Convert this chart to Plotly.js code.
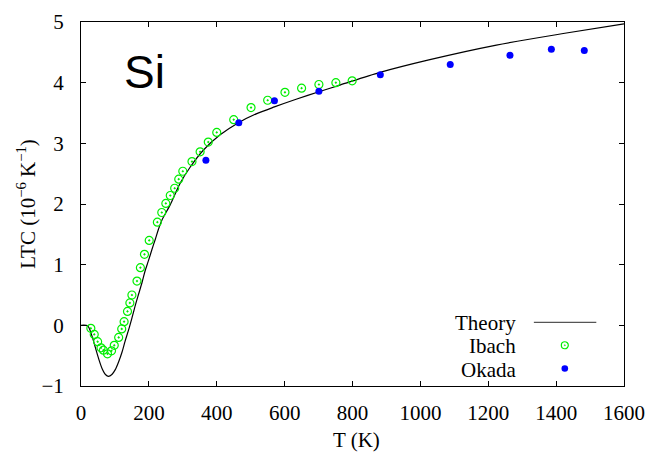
<!DOCTYPE html>
<html>
<head>
<meta charset="utf-8">
<script src="https://cdn.plot.ly/plotly-3.0.1.min.js"></script>
<style>
html,body{margin:0;padding:0;background:#fff;}
#chart{width:652px;height:454px;}
</style>
</head>
<body>
<div id="chart"></div>
<script>
// Theory curve (T in K, LTC in 1e-6 /K)
var theoryT = [0, 20, 32, 42, 52, 62, 72, 81, 91, 101, 111, 121, 130, 140, 150, 160, 170, 180, 189, 199, 209, 219, 228, 238, 263, 292, 322, 361, 410, 464, 518, 570, 636, 701, 763, 881, 1028, 1224, 1421, 1600];
var theoryA = [0, -0.01, -0.17, -0.36, -0.55, -0.71, -0.81, -0.84, -0.81, -0.73, -0.60, -0.44, -0.26, -0.08, 0.12, 0.33, 0.52, 0.71, 0.90, 1.07, 1.25, 1.42, 1.58, 1.73, 1.99, 2.34, 2.61, 2.89, 3.14, 3.34, 3.49, 3.60, 3.73, 3.85, 3.96, 4.17, 4.38, 4.62, 4.81, 4.97];

// Ibach data
var ibachT = [29, 39, 49, 59, 66, 78, 90, 98, 111, 120, 127, 137, 144, 150, 165, 175, 187, 201, 225, 238, 250, 263, 276, 288, 300, 327, 351, 375, 400, 450, 501, 550, 601, 650, 701, 751, 799];
var ibachA = [-0.05, -0.15, -0.27, -0.37, -0.41, -0.47, -0.42, -0.33, -0.20, -0.06, 0.06, 0.23, 0.37, 0.50, 0.73, 0.95, 1.17, 1.40, 1.70, 1.86, 2.01, 2.14, 2.26, 2.41, 2.54, 2.70, 2.86, 3.02, 3.18, 3.39, 3.59, 3.71, 3.84, 3.91, 3.97, 4.00, 4.03];

// Okada data
var okadaT = [368, 465, 570, 701, 882, 1088, 1264, 1386, 1483];
var okadaA = [2.72, 3.34, 3.70, 3.86, 4.13, 4.30, 4.45, 4.55, 4.53];

var xTicks = [0, 200, 400, 600, 800, 1000, 1200, 1400, 1600];
var yTicks = [-1, 0, 1, 2, 3, 4, 5];
var legendNames = ["Theory", "Ibach", "Okada"];
var xTitle = "T (K)";
var yTitle = "LTC (10<sup>\u22126</sup> K<sup>\u22121</sup>)";

var serif = "Liberation Serif";
var green = "#00ee00";
var blue = "#0000ff";

var traces = [
  {x: theoryT, y: theoryA, mode: "lines", name: legendNames[0],
   line: {color: "#000", width: 1.2, shape: "spline", smoothing: 0.8}, showlegend: false},
  {x: ibachT, y: ibachA, mode: "markers", name: legendNames[1],
   marker: {symbol: "circle-open-dot", size: 8, color: green, line: {color: green, width: 1.2}}, showlegend: false},
  {x: okadaT, y: okadaA, mode: "markers", name: legendNames[2],
   marker: {symbol: "circle", size: 7, color: blue}, showlegend: false}
];

// manual gnuplot-style legend (text left, sample right)
var rowsY = [0.175, 0.112, 0.048];
var annotations = [
  {xref: "paper", yref: "paper", x: 0.0, y: 1.0, xanchor: "left", yanchor: "top", showarrow: false,
   text: "Si", font: {family: "Liberation Sans", size: 46, color: "#000"}, xshift: 41, yshift: -22},
  {xref: "paper", yref: "paper", x: 0.508, y: -0.148, xanchor: "center", yanchor: "middle", showarrow: false,
   text: xTitle, font: {family: serif, size: 21, color: "#000"}}
];
legendNames.forEach(function(n, i){
  annotations.push({xref: "paper", yref: "paper", x: 0.805, y: rowsY[i], xanchor: "right", yanchor: "middle",
    showarrow: false, text: n, font: {family: serif, size: 21, color: "#000"}, yshift: -1});
});
var shapes = [
  {type: "line", xref: "paper", yref: "paper", x0: 0.834, x1: 0.949, y0: rowsY[0], y1: rowsY[0],
   line: {color: "#555", width: 1.3}},
  {type: "circle", xref: "paper", yref: "paper", xsizemode: "pixel", ysizemode: "pixel",
   xanchor: 0.891, yanchor: rowsY[1], x0: -3.5, x1: 3.5, y0: -3.5, y1: 3.5,
   line: {color: green, width: 1.2}},
  {type: "circle", xref: "paper", yref: "paper", xsizemode: "pixel", ysizemode: "pixel",
   xanchor: 0.891, yanchor: rowsY[1], x0: -0.6, x1: 0.6, y0: -0.6, y1: 0.6,
   fillcolor: green, line: {color: green, width: 0.5}},
  {type: "circle", xref: "paper", yref: "paper", xsizemode: "pixel", ysizemode: "pixel",
   xanchor: 0.891, yanchor: rowsY[2], x0: -3.3, x1: 3.3, y0: -3.3, y1: 3.3,
   fillcolor: blue, line: {color: blue, width: 0}}
];

var layout = {
  width: 652, height: 454,
  margin: {l: 81, r: 28, t: 22, b: 68, pad: 0},
  paper_bgcolor: "#fff", plot_bgcolor: "#fff",
  font: {family: serif, size: 21, color: "#000"},
  showlegend: false,
  xaxis: {
    range: [0, 1600], tickvals: xTicks, ticktext: xTicks.map(String),
    ticks: "inside", ticklen: 5, tickcolor: "#000", tickwidth: 1,
    showline: true, linecolor: "#000", linewidth: 1, mirror: "ticks",
    showgrid: false, zeroline: false, automargin: false,
    ticklabelstandoff: 8,
    tickfont: {family: serif, size: 21, color: "#000"}
  },
  yaxis: {
    range: [-1, 5], tickvals: yTicks, ticktext: yTicks.map(function(v){return v < 0 ? "\u2212" + Math.abs(v) : String(v);}),
    ticks: "inside", ticklen: 5, tickcolor: "#000", tickwidth: 1,
    showline: true, linecolor: "#000", linewidth: 1, mirror: "ticks",
    showgrid: false, zeroline: false, automargin: false,
    ticklabelstandoff: 12,
    tickfont: {family: serif, size: 21, color: "#000"},
    title: {text: yTitle, font: {family: serif, size: 21, color: "#000"}, standoff: 0}
  },
  annotations: annotations,
  shapes: shapes
};

Plotly.newPlot("chart", traces, layout, {displayModeBar: false, staticPlot: true});
</script>
</body>
</html>
